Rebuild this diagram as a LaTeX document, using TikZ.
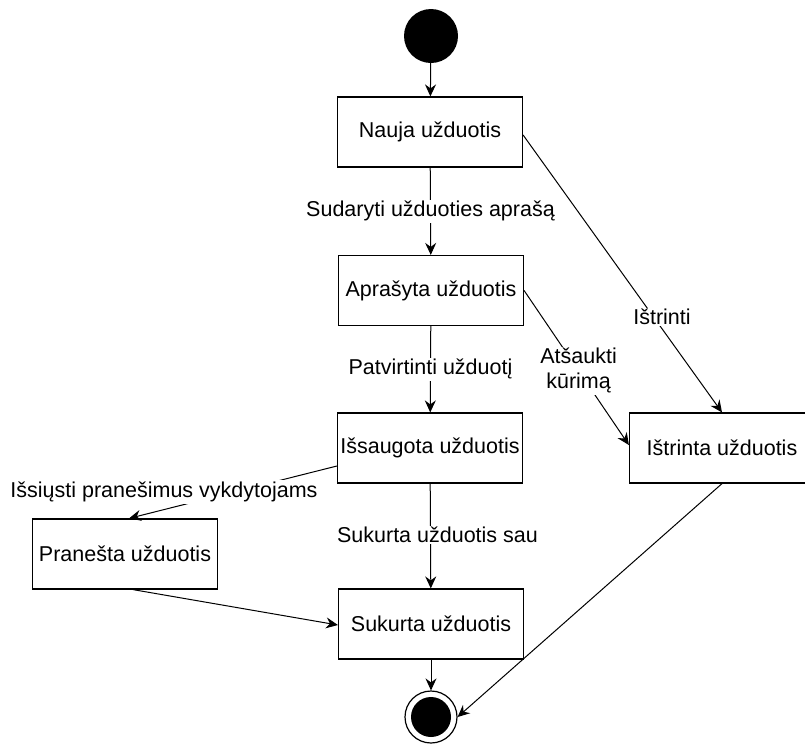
\documentclass[tikz,border=0pt]{standalone}
\usepackage{fontspec}
\setmainfont{Liberation Sans}
\usetikzlibrary{arrows.meta,calc}
\begin{document}
\begin{tikzpicture}[x=1pt,y=-1pt,
  every node/.style={font=\fontsize{21.5}{25}\selectfont},
  state/.style={draw,line width=1.2pt,minimum width=185pt,minimum height=70pt,inner sep=0pt},
  lbl/.style={fill=white,inner sep=1.5pt,align=center},
  flow/.style={line width=1pt,-{Stealth[length=12pt,width=11pt,inset=4pt]}}]
\useasboundingbox (0,0) rectangle (805,745);
\clip (0,0) rectangle (805,745);

% initial and final pseudo-states
\node[circle,fill=black,minimum size=54pt,inner sep=0pt] (start) at (431,36) {};
\node[circle,draw,line width=1.2pt,minimum size=52pt,inner sep=0pt] (final) at (431,717) {};
\fill (final.center) circle (20pt);

% states
\node[state] (nauja) at (430,132) {Nauja užduotis};
\node[state] (apr)   at (431,290.5) {Aprašyta užduotis};
\node[state] (iss)   at (430,448) {Išsaugota užduotis};
\node[state] (pr)    at (125,554) {Pranešta užduotis};
\node[state] (suk)   at (431,624) {Sukurta užduotis};
\node[state] (ist)   at (722,448) {Ištrinta užduotis};

% transitions
\draw[flow] (start) -- (nauja);
\draw[flow] (nauja) -- node[lbl,pos=0.5] {Sudaryti užduoties aprašą} (apr);
\draw[flow] (apr) -- node[lbl,pos=0.5] {Patvirtinti užduotį} (iss);
\draw[flow] (iss) -- node[lbl,pos=0.49,xshift=7pt] {Sukurta užduotis sau} (suk);
\draw[flow] ([yshift=-18pt]iss.west) -- ([xshift=4pt]pr.north);
\node[lbl] (isslbl) at (164,492) {Išsiųsti pranešimus vykdytojams};
\draw[flow] ([xshift=8pt]pr.south) -- ([yshift=-1pt]suk.west);
\draw[flow] (suk) -- (final);
\draw[flow] ([yshift=-3pt]nauja.east) -- (ist.north);
\node[lbl] (istlbl) at (662,317) {Ištrinti};
\draw[flow] (apr.east) -- node[lbl,pos=0.52,align=center] {Atšaukti\\kūrimą} ([yshift=3pt]ist.west);
\draw[flow] (ist.south) -- (final.east);
\end{tikzpicture}
\end{document}
